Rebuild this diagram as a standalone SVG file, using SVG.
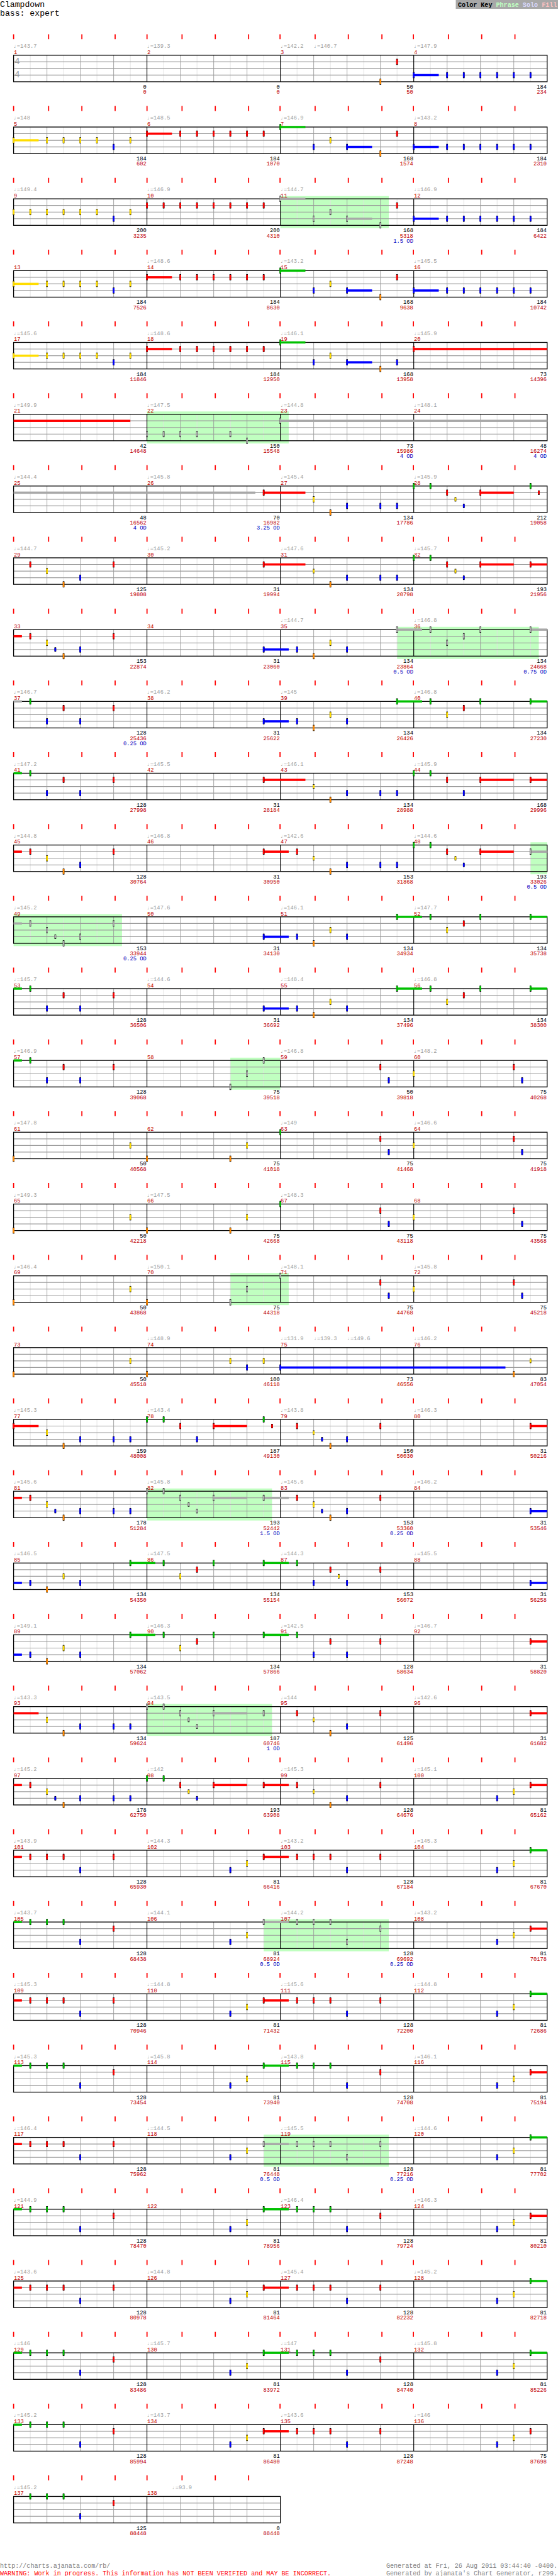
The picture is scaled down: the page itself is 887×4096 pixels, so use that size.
<svg xmlns="http://www.w3.org/2000/svg" width="887" height="4096" viewBox="0 0 887 4096">
<style>
text{font-family:"Liberation Mono","DejaVu Sans Mono",monospace}
.t{font-size:10px;fill:#a0a0a0}
.m{font-size:10px;fill:#c00000}
.b{font-size:10px;fill:#000;text-anchor:end}
.r{font-size:10px;fill:#c00000;text-anchor:end}
.o{font-size:10px;fill:#0000c0;text-anchor:end}
.ph{fill:#c0ffc0}
.sg{fill:#00c000}.sr{fill:#ff0000}.sy{fill:#ffdd00}.sb{fill:#0000ff}.sx{fill:#a8a8a8}
</style>
<defs>
<g id="st" fill="none">
<path stroke="#e0e0e0" d="M54.8 0V48M115.1 0V48M175.5 0V48M235.9 0V48M296.2 0V48M356.6 0V48M416.9 0V48M477.3 0V48M537.7 0V48M598 0V48M658.4 0V48M718.7 0V48M779.1 0V48M839.5 0V48M899.8 0V48M960.2 0V48"/>
<path stroke="#999" d="M85 0V48M145.3 0V48M205.7 0V48M326.4 0V48M386.8 0V48M447.1 0V48M567.8 0V48M628.2 0V48M688.6 0V48M809.3 0V48M869.6 0V48M930 0V48"/>
<path stroke="#999" stroke-width="1.3" d="M24.6 12H990.4M24.6 24H990.4M24.6 36H990.4"/>
<path stroke="#000" stroke-width="1.3" d="M266 0V48M507.5 0V48M748.9 0V48"/>
<rect x="24.6" y="0" width="965.8" height="48" stroke="#000" stroke-width="1.5"/>
</g>
<g id="st2" fill="none">
<path stroke="#e0e0e0" d="M54.8 0V48M115.1 0V48M175.5 0V48M235.9 0V48M296.2 0V48M356.6 0V48M416.9 0V48M477.3 0V48"/>
<path stroke="#999" d="M85 0V48M145.3 0V48M205.7 0V48M326.4 0V48M386.8 0V48M447.1 0V48"/>
<path stroke="#999" stroke-width="1.3" d="M24.6 12H507.5M24.6 24H507.5M24.6 36H507.5"/>
<path stroke="#000" stroke-width="1.3" d="M266 0V48"/>
<rect x="24.6" y="0" width="482.9" height="48" stroke="#000" stroke-width="1.5"/>
</g>
<path id="tk" stroke="#f00" stroke-width="2" d="M24.6 -38v9M88 -38v9M148.2 -38v9M208.4 -38v9M266.1 -38v9M329.5 -38v9M389.7 -38v9M450 -38v9M506.9 -38v9M570.4 -38v9M630.5 -38v9M691.3 -38v9M748.3 -38v9M811.7 -38v9M871.9 -38v9M932.1 -38v9"/>
<path id="tk2" stroke="#f00" stroke-width="2" d="M24.6 -38v9M88 -38v9M148.2 -38v9M208.4 -38v9M266.1 -38v9M329.5 -38v9M389.7 -38v9M450 -38v9"/>
<g id="nG"><rect x="-1.5" y="-5.5" width="3" height="11"/><rect x="-1.5" y="-4.5" width="3" height="9" fill="#00c000"/></g>
<g id="nR"><rect x="-1.5" y="6.5" width="3" height="11"/><rect x="-1.5" y="7.5" width="3" height="9" fill="#ff0000"/></g>
<g id="nY"><rect x="-1.5" y="18.5" width="3" height="11"/><rect x="-1.5" y="19.5" width="3" height="9" fill="#ffdd00"/></g>
<g id="nB"><rect x="-1.5" y="30.5" width="3" height="11"/><rect x="-1.5" y="31.5" width="3" height="9" fill="#0000ff"/></g>
<g id="nO"><rect x="-1.5" y="42.5" width="3" height="11"/><rect x="-1.5" y="43.5" width="3" height="9" fill="#ff8800"/></g>
<g id="nRs"><rect x="-1.5" y="8" width="3" height="8"/><rect x="-1.5" y="9" width="3" height="6" fill="#ff0000"/></g>
<g id="nYs"><rect x="-1.5" y="20" width="3" height="8"/><rect x="-1.5" y="21" width="3" height="6" fill="#ffdd00"/></g>
<g id="nBs"><rect x="-1.5" y="32" width="3" height="8"/><rect x="-1.5" y="33" width="3" height="6" fill="#0000ff"/></g>
<g id="xG"><rect x="-1.5" y="-5.5" width="3" height="11"/><rect x="-1.5" y="-4.5" width="3" height="9" fill="#a8a8a8"/></g>
<g id="xR"><rect x="-1.5" y="6.5" width="3" height="11"/><rect x="-1.5" y="7.5" width="3" height="9" fill="#a8a8a8"/></g>
<g id="xY"><rect x="-1.5" y="18.5" width="3" height="11"/><rect x="-1.5" y="19.5" width="3" height="9" fill="#a8a8a8"/></g>
<g id="xB"><rect x="-1.5" y="30.5" width="3" height="11"/><rect x="-1.5" y="31.5" width="3" height="9" fill="#a8a8a8"/></g>
<g id="xO"><rect x="-1.5" y="42.5" width="3" height="11"/><rect x="-1.5" y="43.5" width="3" height="9" fill="#a8a8a8"/></g>
<g id="xYs"><rect x="-1.5" y="20" width="3" height="8"/><rect x="-1.5" y="21" width="3" height="6" fill="#a8a8a8"/></g>
<g id="xBs"><rect x="-1.5" y="32" width="3" height="8"/><rect x="-1.5" y="33" width="3" height="6" fill="#a8a8a8"/></g>
</defs>
<rect width="887" height="4096" fill="#fff"/>
<g transform="scale(0.8782)">
<g id="header">
<text x="0" y="13" font-size="15">Clampdown</text>
<text x="0" y="28" font-size="15">bass: expert</text>
<rect x="825" y="0" width="185" height="16" fill="#a8a8a8"/>
<text x="829" y="12" font-size="11.5" font-weight="bold"><tspan fill="#000">Color Key</tspan> <tspan fill="#c0ffc0">Phrase</tspan> <tspan fill="#d8d8ff">Solo</tspan> <tspan fill="#ffc0c0">Fill</tspan></text>
</g>

<g id="row1" transform="translate(0,100)">
<use href="#st"/><use href="#tk"/>
<text x="26" y="16" font-size="17" fill="#a0a0a0">4</text><text x="26" y="40" font-size="17" fill="#a0a0a0">4</text>
<text class="t" x="24.6" y="-13.5">♩=143.7</text><text class="t" x="266" y="-13.5">♩=139.3</text><text class="t" x="507.5" y="-13.5">♩=142.2</text><text class="t" x="567.8" y="-13.5">♩=140.7</text><text class="t" x="748.9" y="-13.5">♩=147.9</text>
<text class="m" x="25" y="-2.5">1</text><text class="m" x="266.5" y="-2.5">2</text><text class="m" x="508" y="-2.5">3</text><text class="m" x="749.4" y="-2.5">4</text>
<use href="#nO" x="688.6"/><use href="#nR" x="718.7"/>
<rect class="sb" x="748.9" y="34" width="45.3" height="4"/><use href="#nB" x="748.9"/>
<use href="#nB" x="809.3"/><use href="#nB" x="839.5"/><use href="#nB" x="869.6"/><use href="#nB" x="899.8"/><use href="#nB" x="930"/><use href="#nB" x="960.2"/>
<text class="b" x="265" y="60.5">0</text><text class="b" x="506.5" y="60.5">0</text><text class="b" x="748" y="60.5">50</text><text class="b" x="989.5" y="60.5">184</text>
<text class="r" x="265" y="70">0</text><text class="r" x="506.5" y="70">0</text><text class="r" x="748" y="70">50</text><text class="r" x="989.5" y="70">234</text>
</g>

<g id="row2" transform="translate(0,230)">
<use href="#st"/><use href="#tk"/>
<text class="t" x="24.6" y="-13.5">♩=148</text><text class="t" x="266" y="-13.5">♩=148.5</text><text class="t" x="507.5" y="-13.5">♩=146.9</text><text class="t" x="748.9" y="-13.5">♩=143.2</text>
<text class="m" x="25" y="-2.5">5</text><text class="m" x="266.5" y="-2.5">6</text><text class="m" x="508" y="-2.5">7</text><text class="m" x="749.4" y="-2.5">8</text>
<rect class="sy" x="24.6" y="22" width="45.3" height="4"/><use href="#nY" x="24.6"/><use href="#nY" x="85"/><use href="#nY" x="115.1"/><use href="#nY" x="145.3"/><use href="#nY" x="175.5"/><use href="#nB" x="205.7"/><use href="#nY" x="235.9"/>
<rect class="sr" x="266" y="10" width="45.3" height="4"/><use href="#nR" x="266"/><use href="#nR" x="326.4"/><use href="#nR" x="356.6"/><use href="#nR" x="386.8"/><use href="#nR" x="416.9"/><use href="#nR" x="447.1"/><use href="#nR" x="477.3"/>
<rect class="sg" x="507.5" y="-2" width="45.3" height="4"/><use href="#nG" x="507.5"/><use href="#nB" x="567.8"/><use href="#nY" x="598"/>
<rect class="sb" x="628.2" y="34" width="45.3" height="4"/><use href="#nB" x="628.2"/><use href="#nO" x="688.6"/><use href="#nR" x="718.7"/>
<rect class="sb" x="748.9" y="34" width="45.3" height="4"/><use href="#nB" x="748.9"/><use href="#nB" x="809.3"/><use href="#nB" x="839.5"/><use href="#nB" x="869.6"/><use href="#nB" x="899.8"/><use href="#nB" x="930"/><use href="#nB" x="960.2"/>
<text class="b" x="265" y="60.5">184</text><text class="b" x="506.5" y="60.5">184</text><text class="b" x="748" y="60.5">168</text><text class="b" x="989.5" y="60.5">184</text>
<text class="r" x="265" y="70">602</text><text class="r" x="506.5" y="70">1070</text><text class="r" x="748" y="70">1574</text><text class="r" x="989.5" y="70">2310</text>
</g>

<g id="row3" transform="translate(0,360)">
<rect class="ph" x="507.5" y="-5" width="196.2" height="58"/>
<use href="#st"/><use href="#tk"/>
<text class="t" x="24.6" y="-13.5">♩=149.4</text><text class="t" x="266" y="-13.5">♩=146.9</text><text class="t" x="507.5" y="-13.5">♩=144.7</text><text class="t" x="748.9" y="-13.5">♩=146.9</text>
<text class="m" x="25" y="-2.5">9</text><text class="m" x="266.5" y="-2.5">10</text><text class="m" x="508" y="-2.5">11</text><text class="m" x="749.4" y="-2.5">12</text>
<use href="#nY" x="24.6"/><use href="#nY" x="54.8"/><use href="#nY" x="85"/><use href="#nY" x="115.1"/><use href="#nY" x="145.3"/><use href="#nY" x="175.5"/><use href="#nB" x="205.7"/><use href="#nY" x="235.9"/>
<use href="#nR" x="266"/><use href="#nR" x="296.2"/><use href="#nR" x="326.4"/><use href="#nR" x="356.6"/><use href="#nR" x="386.8"/><use href="#nR" x="416.9"/><use href="#nR" x="447.1"/><use href="#nR" x="477.3"/>
<rect class="sx" x="507.5" y="-2" width="45.3" height="4"/><use href="#xG" x="507.5"/><use href="#xB" x="567.8"/><use href="#xY" x="598"/>
<rect class="sx" x="628.2" y="34" width="45.3" height="4"/><use href="#xB" x="628.2"/><use href="#xO" x="688.6"/><use href="#nR" x="718.7"/>
<rect class="sb" x="748.9" y="34" width="45.3" height="4"/><use href="#nB" x="748.9"/><use href="#nB" x="809.3"/><use href="#nB" x="839.5"/><use href="#nB" x="869.6"/><use href="#nB" x="899.8"/><use href="#nB" x="930"/><use href="#nB" x="960.2"/>
<text class="b" x="265" y="60.5">200</text><text class="b" x="506.5" y="60.5">200</text><text class="b" x="748" y="60.5">168</text><text class="b" x="989.5" y="60.5">184</text>
<text class="r" x="265" y="70">3235</text><text class="r" x="506.5" y="70">4310</text><text class="r" x="748" y="70">5318</text><text class="r" x="989.5" y="70">6422</text>
<text class="o" x="748" y="79">1.5 OD</text>
</g>

<g id="row4" transform="translate(0,490)">
<use href="#st"/><use href="#tk"/>
<text class="t" x="266" y="-13.5">♩=148.6</text><text class="t" x="507.5" y="-13.5">♩=143.2</text><text class="t" x="748.9" y="-13.5">♩=145.5</text>
<text class="m" x="25" y="-2.5">13</text><text class="m" x="266.5" y="-2.5">14</text><text class="m" x="508" y="-2.5">15</text><text class="m" x="749.4" y="-2.5">16</text>
<rect class="sy" x="24.6" y="22" width="45.3" height="4"/><use href="#nY" x="24.6"/><use href="#nY" x="85"/><use href="#nY" x="115.1"/><use href="#nY" x="145.3"/><use href="#nY" x="175.5"/><use href="#nB" x="205.7"/><use href="#nY" x="235.9"/>
<rect class="sr" x="266" y="10" width="45.3" height="4"/><use href="#nR" x="266"/><use href="#nR" x="326.4"/><use href="#nR" x="356.6"/><use href="#nR" x="386.8"/><use href="#nR" x="416.9"/><use href="#nR" x="447.1"/><use href="#nR" x="477.3"/>
<rect class="sg" x="507.5" y="-2" width="45.3" height="4"/><use href="#nG" x="507.5"/><use href="#nB" x="567.8"/><use href="#nY" x="598"/>
<rect class="sb" x="628.2" y="34" width="45.3" height="4"/><use href="#nB" x="628.2"/><use href="#nO" x="688.6"/><use href="#nR" x="718.7"/>
<rect class="sb" x="748.9" y="34" width="45.3" height="4"/><use href="#nB" x="748.9"/><use href="#nB" x="809.3"/><use href="#nB" x="839.5"/><use href="#nB" x="869.6"/><use href="#nB" x="899.8"/><use href="#nB" x="930"/><use href="#nB" x="960.2"/>
<text class="b" x="265" y="60.5">184</text><text class="b" x="506.5" y="60.5">184</text><text class="b" x="748" y="60.5">168</text><text class="b" x="989.5" y="60.5">184</text>
<text class="r" x="265" y="70">7526</text><text class="r" x="506.5" y="70">8630</text><text class="r" x="748" y="70">9638</text><text class="r" x="989.5" y="70">10742</text>
</g>

<g id="row5" transform="translate(0,620)">
<use href="#st"/><use href="#tk"/>
<text class="t" x="24.6" y="-13.5">♩=145.6</text><text class="t" x="266" y="-13.5">♩=148.6</text><text class="t" x="507.5" y="-13.5">♩=146.1</text><text class="t" x="748.9" y="-13.5">♩=145.9</text>
<text class="m" x="25" y="-2.5">17</text><text class="m" x="266.5" y="-2.5">18</text><text class="m" x="508" y="-2.5">19</text><text class="m" x="749.4" y="-2.5">20</text>
<rect class="sy" x="24.6" y="22" width="45.3" height="4"/><use href="#nY" x="24.6"/><use href="#nY" x="85"/><use href="#nY" x="115.1"/><use href="#nY" x="145.3"/><use href="#nY" x="175.5"/><use href="#nB" x="205.7"/><use href="#nY" x="235.9"/>
<rect class="sr" x="266" y="10" width="45.3" height="4"/><use href="#nR" x="266"/><use href="#nR" x="326.4"/><use href="#nR" x="356.6"/><use href="#nR" x="386.8"/><use href="#nR" x="416.9"/><use href="#nR" x="447.1"/><use href="#nR" x="477.3"/>
<rect class="sg" x="507.5" y="-2" width="45.3" height="4"/><use href="#nG" x="507.5"/><use href="#nB" x="567.8"/><use href="#nY" x="598"/>
<rect class="sb" x="628.2" y="34" width="45.3" height="4"/><use href="#nB" x="628.2"/><use href="#nO" x="688.6"/><use href="#nB" x="718.7"/>
<rect class="sr" x="748.9" y="10" width="241.5" height="4"/><use href="#nR" x="748.9"/>
<text class="b" x="265" y="60.5">184</text><text class="b" x="506.5" y="60.5">184</text><text class="b" x="748" y="60.5">168</text><text class="b" x="989.5" y="60.5">73</text>
<text class="r" x="265" y="70">11846</text><text class="r" x="506.5" y="70">12950</text><text class="r" x="748" y="70">13958</text><text class="r" x="989.5" y="70">14396</text>
</g>

<g id="row6" transform="translate(0,750)">
<rect class="ph" x="266" y="-5" width="256.6" height="58"/>
<use href="#st"/><use href="#tk"/>
<text class="t" x="24.6" y="-13.5">♩=149.9</text><text class="t" x="266" y="-13.5">♩=147.5</text><text class="t" x="507.5" y="-13.5">♩=144.8</text><text class="t" x="748.9" y="-13.5">♩=148.1</text>
<text class="m" x="25" y="-2.5">21</text><text class="m" x="266.5" y="-2.5">22</text><text class="m" x="508" y="-2.5">23</text><text class="m" x="749.4" y="-2.5">24</text>
<rect class="sr" x="24.6" y="10" width="211.3" height="4"/>
<use href="#xB" x="266"/><use href="#xB" x="296.2"/><use href="#xB" x="326.4"/><use href="#xB" x="356.6"/><use href="#xB" x="416.9"/><use href="#xO" x="447.1"/>
<rect class="sx" x="507.5" y="10" width="482.9" height="4"/><use href="#xR" x="507.5"/>
<text class="b" x="265" y="60.5">42</text><text class="b" x="506.5" y="60.5">150</text><text class="b" x="748" y="60.5">73</text><text class="b" x="989.5" y="60.5">48</text>
<text class="r" x="265" y="70">14648</text><text class="r" x="506.5" y="70">15548</text><text class="r" x="748" y="70">15986</text><text class="r" x="989.5" y="70">16274</text>
<text class="o" x="748" y="79">4 OD</text><text class="o" x="989.5" y="79">4 OD</text>
</g>

<g id="row7" transform="translate(0,880)">
<use href="#st"/><use href="#tk"/>
<text class="t" x="24.6" y="-13.5">♩=144.4</text><text class="t" x="266" y="-13.5">♩=145.8</text><text class="t" x="507.5" y="-13.5">♩=145.4</text><text class="t" x="748.9" y="-13.5">♩=145.9</text>
<text class="m" x="25" y="-2.5">25</text><text class="m" x="266.5" y="-2.5">26</text><text class="m" x="508" y="-2.5">27</text><text class="m" x="749.4" y="-2.5">28</text>
<rect class="sx" x="24.6" y="10" width="437.6" height="4"/>
<rect class="sr" x="477.3" y="10" width="75.5" height="4"/><use href="#nR" x="477.3"/>
<use href="#nY" x="567.8"/><use href="#nO" x="598"/><use href="#nB" x="628.2"/><use href="#nB" x="688.6"/><use href="#nB" x="718.7"/>
<use href="#nG" x="748.9"/><use href="#nG" x="779.1"/><use href="#nR" x="809.3"/><use href="#nYs" x="824.4"/><use href="#nBs" x="839.5"/>
<rect class="sr" x="869.6" y="10" width="60.4" height="4"/><use href="#nR" x="869.6"/><use href="#nG" x="960.2"/><use href="#nRs" x="975.3"/>
<text class="b" x="265" y="60.5">48</text><text class="b" x="506.5" y="60.5">70</text><text class="b" x="748" y="60.5">134</text><text class="b" x="989.5" y="60.5">212</text>
<text class="r" x="265" y="70">16562</text><text class="r" x="506.5" y="70">16982</text><text class="r" x="748" y="70">17786</text><text class="r" x="989.5" y="70">19058</text>
<text class="o" x="265" y="79">4 OD</text><text class="o" x="506.5" y="79">3.25 OD</text>
</g>

<g id="row8" transform="translate(0,1010)">
<use href="#st"/><use href="#tk"/>
<text class="t" x="24.6" y="-13.5">♩=144.7</text><text class="t" x="266" y="-13.5">♩=145.2</text><text class="t" x="507.5" y="-13.5">♩=147.6</text><text class="t" x="748.9" y="-13.5">♩=145.7</text>
<text class="m" x="25" y="-2.5">29</text><text class="m" x="266.5" y="-2.5">30</text><text class="m" x="508" y="-2.5">31</text><text class="m" x="749.4" y="-2.5">32</text>
<use href="#nR" x="54.8"/><use href="#nY" x="85"/><use href="#nO" x="115.1"/><use href="#nB" x="145.3"/><use href="#nR" x="205.7"/>
<rect class="sr" x="477.3" y="10" width="75.5" height="4"/><use href="#nR" x="477.3"/>
<use href="#nYs" x="567.8"/><use href="#nO" x="598"/><use href="#nB" x="628.2"/><use href="#nB" x="688.6"/><use href="#nB" x="718.7"/>
<use href="#nG" x="748.9"/><use href="#nG" x="779.1"/><use href="#nR" x="809.3"/><use href="#nYs" x="824.4"/><use href="#nBs" x="839.5"/>
<rect class="sr" x="869.6" y="10" width="60.4" height="4"/><use href="#nR" x="869.6"/>
<rect class="sr" x="960.2" y="10" width="30.2" height="4"/><use href="#nR" x="960.2"/>
<text class="b" x="265" y="60.5">125</text><text class="b" x="506.5" y="60.5">31</text><text class="b" x="748" y="60.5">134</text><text class="b" x="989.5" y="60.5">193</text>
<text class="r" x="265" y="70">19808</text><text class="r" x="506.5" y="70">19994</text><text class="r" x="748" y="70">20798</text><text class="r" x="989.5" y="70">21956</text>
</g>

<g id="row9" transform="translate(0,1140)">
<rect class="ph" x="718.7" y="-5" width="256.6" height="58"/>
<use href="#st"/><use href="#tk"/>
<text class="t" x="507.5" y="-13.5">♩=144.7</text><text class="t" x="748.9" y="-13.5">♩=146.8</text>
<text class="m" x="25" y="-2.5">33</text><text class="m" x="266.5" y="-2.5">34</text><text class="m" x="508" y="-2.5">35</text><text class="m" x="749.4" y="-2.5">36</text>
<rect class="sr" x="24.6" y="10" width="15.1" height="4"/>
<use href="#nR" x="54.8"/><use href="#nY" x="85"/><use href="#nBs" x="100.1"/><use href="#nO" x="115.1"/><use href="#nB" x="145.3"/><use href="#nR" x="205.7"/>
<rect class="sb" x="477.3" y="34" width="45.3" height="4"/><use href="#nB" x="477.3"/><use href="#nB" x="537.7"/><use href="#nO" x="567.8"/><use href="#nY" x="598"/><use href="#nB" x="628.2"/>
<rect class="sx" x="718.7" y="-2" width="45.3" height="4"/><use href="#xG" x="718.7"/><use href="#xG" x="779.1"/><use href="#xY" x="809.3"/><use href="#xR" x="839.5"/><use href="#xG" x="869.6"/>
<rect class="sx" x="960.2" y="-2" width="30.2" height="4"/><use href="#xG" x="960.2"/>
<text class="b" x="265" y="60.5">153</text><text class="b" x="506.5" y="60.5">31</text><text class="b" x="748" y="60.5">134</text><text class="b" x="989.5" y="60.5">134</text>
<text class="r" x="265" y="70">22874</text><text class="r" x="506.5" y="70">23060</text><text class="r" x="748" y="70">23864</text><text class="r" x="989.5" y="70">24668</text>
<text class="o" x="748" y="79">0.5 OD</text><text class="o" x="989.5" y="79">0.75 OD</text>
</g>

<g id="row10" transform="translate(0,1270)">
<use href="#st"/><use href="#tk"/>
<text class="t" x="24.6" y="-13.5">♩=146.7</text><text class="t" x="266" y="-13.5">♩=146.2</text><text class="t" x="507.5" y="-13.5">♩=145</text><text class="t" x="748.9" y="-13.5">♩=146.8</text>
<text class="m" x="25" y="-2.5">37</text><text class="m" x="266.5" y="-2.5">38</text><text class="m" x="508" y="-2.5">39</text><text class="m" x="749.4" y="-2.5">40</text>
<rect class="sx" x="24.6" y="-2" width="15.1" height="4"/>
<use href="#nG" x="54.8"/><use href="#nB" x="85"/><use href="#nR" x="115.1"/><use href="#nB" x="145.3"/><use href="#nR" x="205.7"/>
<rect class="sb" x="477.3" y="34" width="45.3" height="4"/><use href="#nB" x="477.3"/><use href="#nB" x="537.7"/><use href="#nO" x="567.8"/><use href="#nY" x="598"/><use href="#nB" x="628.2"/>
<rect class="sg" x="718.7" y="-2" width="45.3" height="4"/><use href="#nG" x="718.7"/><use href="#nG" x="779.1"/><use href="#nY" x="809.3"/><use href="#nR" x="839.5"/><use href="#nG" x="869.6"/>
<rect class="sg" x="960.2" y="-2" width="30.2" height="4"/><use href="#nG" x="960.2"/>
<text class="b" x="265" y="60.5">128</text><text class="b" x="506.5" y="60.5">31</text><text class="b" x="748" y="60.5">134</text><text class="b" x="989.5" y="60.5">134</text>
<text class="r" x="265" y="70">25436</text><text class="r" x="506.5" y="70">25622</text><text class="r" x="748" y="70">26426</text><text class="r" x="989.5" y="70">27230</text>
<text class="o" x="265" y="79">0.25 OD</text>
</g>

<g id="row11" transform="translate(0,1400)">
<use href="#st"/><use href="#tk"/>
<text class="t" x="24.6" y="-13.5">♩=147.2</text><text class="t" x="266" y="-13.5">♩=145.5</text><text class="t" x="507.5" y="-13.5">♩=146.1</text><text class="t" x="748.9" y="-13.5">♩=145.9</text>
<text class="m" x="25" y="-2.5">41</text><text class="m" x="266.5" y="-2.5">42</text><text class="m" x="508" y="-2.5">43</text><text class="m" x="749.4" y="-2.5">44</text>
<rect class="sg" x="24.6" y="-2" width="15.1" height="4"/>
<use href="#nG" x="54.8"/><use href="#nB" x="85"/><use href="#nR" x="115.1"/><use href="#nB" x="145.3"/><use href="#nR" x="205.7"/>
<rect class="sr" x="477.3" y="10" width="75.5" height="4"/><use href="#nR" x="477.3"/>
<use href="#nYs" x="567.8"/><use href="#nO" x="598"/><use href="#nB" x="628.2"/><use href="#nB" x="688.6"/><use href="#nB" x="718.7"/>
<use href="#nG" x="748.9"/><use href="#nG" x="779.1"/><use href="#nR" x="809.3"/><use href="#nB" x="839.5"/>
<rect class="sr" x="869.6" y="10" width="60.4" height="4"/><use href="#nR" x="869.6"/>
<rect class="sr" x="960.2" y="10" width="30.2" height="4"/><use href="#nR" x="960.2"/>
<text class="b" x="265" y="60.5">128</text><text class="b" x="506.5" y="60.5">31</text><text class="b" x="748" y="60.5">134</text><text class="b" x="989.5" y="60.5">168</text>
<text class="r" x="265" y="70">27998</text><text class="r" x="506.5" y="70">28184</text><text class="r" x="748" y="70">28988</text><text class="r" x="989.5" y="70">29996</text>
</g>

<g id="row12" transform="translate(0,1530)">
<rect class="ph" x="960.2" y="-5" width="30.2" height="58"/>
<use href="#st"/><use href="#tk"/>
<text class="t" x="24.6" y="-13.5">♩=144.8</text><text class="t" x="266" y="-13.5">♩=146.8</text><text class="t" x="507.5" y="-13.5">♩=142.6</text><text class="t" x="748.9" y="-13.5">♩=144.6</text>
<text class="m" x="25" y="-2.5">45</text><text class="m" x="266.5" y="-2.5">46</text><text class="m" x="508" y="-2.5">47</text><text class="m" x="749.4" y="-2.5">48</text>
<rect class="sr" x="24.6" y="10" width="15.1" height="4"/>
<use href="#nR" x="54.8"/><use href="#nY" x="85"/><use href="#nO" x="115.1"/><use href="#nB" x="145.3"/><use href="#nR" x="205.7"/>
<rect class="sr" x="477.3" y="10" width="45.3" height="4"/><use href="#nR" x="477.3"/><use href="#nR" x="537.7"/>
<use href="#nYs" x="567.8"/><use href="#nO" x="598"/><use href="#nB" x="628.2"/><use href="#nB" x="688.6"/><use href="#nB" x="718.7"/>
<use href="#nG" x="748.9"/><use href="#nG" x="779.1"/><use href="#nR" x="809.3"/><use href="#nYs" x="824.4"/><use href="#nBs" x="839.5"/>
<rect class="sr" x="869.6" y="10" width="60.4" height="4"/><use href="#nR" x="869.6"/>
<rect class="sx" x="960.2" y="10" width="30.2" height="4"/><use href="#xR" x="960.2"/>
<text class="b" x="265" y="60.5">128</text><text class="b" x="506.5" y="60.5">31</text><text class="b" x="748" y="60.5">153</text><text class="b" x="989.5" y="60.5">193</text>
<text class="r" x="265" y="70">30764</text><text class="r" x="506.5" y="70">30950</text><text class="r" x="748" y="70">31868</text><text class="r" x="989.5" y="70">33026</text>
<text class="o" x="989.5" y="79">0.5 OD</text>
</g>

<g id="row13" transform="translate(0,1660)">
<rect class="ph" x="24.6" y="-5" width="196.2" height="58"/>
<use href="#st"/><use href="#tk"/>
<text class="t" x="24.6" y="-13.5">♩=145.2</text><text class="t" x="266" y="-13.5">♩=147.6</text><text class="t" x="507.5" y="-13.5">♩=146.1</text><text class="t" x="748.9" y="-13.5">♩=147.7</text>
<text class="m" x="25" y="-2.5">49</text><text class="m" x="266.5" y="-2.5">50</text><text class="m" x="508" y="-2.5">51</text><text class="m" x="749.4" y="-2.5">52</text>
<rect class="sx" x="24.6" y="10" width="15.1" height="4"/>
<use href="#xR" x="54.8"/><use href="#xY" x="85"/><use href="#xBs" x="100.1"/><use href="#xO" x="115.1"/><use href="#xB" x="145.3"/><use href="#xR" x="205.7"/>
<rect class="sb" x="477.3" y="34" width="45.3" height="4"/><use href="#nB" x="477.3"/><use href="#nB" x="537.7"/><use href="#nO" x="567.8"/><use href="#nY" x="598"/><use href="#nB" x="628.2"/>
<rect class="sg" x="718.7" y="-2" width="45.3" height="4"/><use href="#nG" x="718.7"/><use href="#nG" x="779.1"/><use href="#nY" x="809.3"/><use href="#nR" x="839.5"/><use href="#nG" x="869.6"/>
<rect class="sg" x="960.2" y="-2" width="30.2" height="4"/><use href="#nG" x="960.2"/>
<text class="b" x="265" y="60.5">153</text><text class="b" x="506.5" y="60.5">31</text><text class="b" x="748" y="60.5">134</text><text class="b" x="989.5" y="60.5">134</text>
<text class="r" x="265" y="70">33944</text><text class="r" x="506.5" y="70">34130</text><text class="r" x="748" y="70">34934</text><text class="r" x="989.5" y="70">35738</text>
<text class="o" x="265" y="79">0.25 OD</text>
</g>

<g id="row14" transform="translate(0,1790)">
<use href="#st"/><use href="#tk"/>
<text class="t" x="24.6" y="-13.5">♩=145.7</text><text class="t" x="266" y="-13.5">♩=144.6</text><text class="t" x="507.5" y="-13.5">♩=148.4</text><text class="t" x="748.9" y="-13.5">♩=146.8</text>
<text class="m" x="25" y="-2.5">53</text><text class="m" x="266.5" y="-2.5">54</text><text class="m" x="508" y="-2.5">55</text><text class="m" x="749.4" y="-2.5">56</text>
<rect class="sg" x="24.6" y="-2" width="15.1" height="4"/>
<use href="#nG" x="54.8"/><use href="#nB" x="85"/><use href="#nR" x="115.1"/><use href="#nB" x="145.3"/><use href="#nR" x="205.7"/>
<rect class="sb" x="477.3" y="34" width="45.3" height="4"/><use href="#nB" x="477.3"/><use href="#nB" x="537.7"/><use href="#nO" x="567.8"/><use href="#nY" x="598"/><use href="#nB" x="628.2"/>
<rect class="sg" x="718.7" y="-2" width="45.3" height="4"/><use href="#nG" x="718.7"/><use href="#nG" x="779.1"/><use href="#nY" x="809.3"/><use href="#nR" x="839.5"/><use href="#nG" x="869.6"/>
<rect class="sg" x="960.2" y="-2" width="30.2" height="4"/><use href="#nG" x="960.2"/>
<text class="b" x="265" y="60.5">128</text><text class="b" x="506.5" y="60.5">31</text><text class="b" x="748" y="60.5">134</text><text class="b" x="989.5" y="60.5">134</text>
<text class="r" x="265" y="70">36506</text><text class="r" x="506.5" y="70">36692</text><text class="r" x="748" y="70">37496</text><text class="r" x="989.5" y="70">38300</text>
</g>

<g id="row15" transform="translate(0,1920)">
<rect class="ph" x="416.9" y="-5" width="90.6" height="58"/>
<use href="#st"/><use href="#tk"/>
<text class="t" x="24.6" y="-13.5">♩=146.9</text><text class="t" x="507.5" y="-13.5">♩=146.8</text><text class="t" x="748.9" y="-13.5">♩=148.2</text>
<text class="m" x="25" y="-2.5">57</text><text class="m" x="266.5" y="-2.5">58</text><text class="m" x="508" y="-2.5">59</text><text class="m" x="749.4" y="-2.5">60</text>
<rect class="sg" x="24.6" y="-2" width="15.1" height="4"/>
<use href="#nG" x="54.8"/><use href="#nB" x="85"/><use href="#nR" x="115.1"/><use href="#nB" x="145.3"/><use href="#nR" x="205.7"/>
<use href="#xO" x="416.9"/><use href="#xY" x="447.1"/><use href="#xG" x="477.3"/>
<use href="#nR" x="688.6"/><use href="#nB" x="703.7"/><use href="#nY" x="748.9"/><use href="#nR" x="930"/><use href="#nB" x="945.1"/>
<text class="b" x="265" y="60.5">128</text><text class="b" x="506.5" y="60.5">75</text><text class="b" x="748" y="60.5">50</text><text class="b" x="989.5" y="60.5">75</text>
<text class="r" x="265" y="70">39068</text><text class="r" x="506.5" y="70">39518</text><text class="r" x="748" y="70">39818</text><text class="r" x="989.5" y="70">40268</text>
</g>

<g id="row16" transform="translate(0,2050)">
<use href="#st"/><use href="#tk"/>
<text class="t" x="24.6" y="-13.5">♩=147.8</text><text class="t" x="507.5" y="-13.5">♩=149</text><text class="t" x="748.9" y="-13.5">♩=146.6</text>
<text class="m" x="25" y="-2.5">61</text><text class="m" x="266.5" y="-2.5">62</text><text class="m" x="508" y="-2.5">63</text><text class="m" x="749.4" y="-2.5">64</text>
<use href="#nO" x="24.6"/><use href="#nY" x="235.9"/><use href="#nO" x="266"/><use href="#nO" x="416.9"/><use href="#nY" x="447.1"/><use href="#nG" x="507.5"/>
<use href="#nR" x="688.6"/><use href="#nB" x="703.7"/><use href="#nY" x="748.9"/><use href="#nR" x="930"/><use href="#nB" x="945.1"/>
<text class="b" x="265" y="60.5">50</text><text class="b" x="506.5" y="60.5">75</text><text class="b" x="748" y="60.5">75</text><text class="b" x="989.5" y="60.5">75</text>
<text class="r" x="265" y="70">40568</text><text class="r" x="506.5" y="70">41018</text><text class="r" x="748" y="70">41468</text><text class="r" x="989.5" y="70">41918</text>
</g>

<g id="row17" transform="translate(0,2180)">
<use href="#st"/><use href="#tk"/>
<text class="t" x="24.6" y="-13.5">♩=149.3</text><text class="t" x="266" y="-13.5">♩=147.5</text><text class="t" x="507.5" y="-13.5">♩=148.3</text>
<text class="m" x="25" y="-2.5">65</text><text class="m" x="266.5" y="-2.5">66</text><text class="m" x="508" y="-2.5">67</text><text class="m" x="749.4" y="-2.5">68</text>
<use href="#nO" x="24.6"/><use href="#nY" x="235.9"/><use href="#nO" x="266"/><use href="#nO" x="416.9"/><use href="#nY" x="447.1"/><use href="#nG" x="507.5"/>
<use href="#nR" x="688.6"/><use href="#nB" x="703.7"/><use href="#nY" x="748.9"/><use href="#nR" x="930"/><use href="#nB" x="945.1"/>
<text class="b" x="265" y="60.5">50</text><text class="b" x="506.5" y="60.5">75</text><text class="b" x="748" y="60.5">75</text><text class="b" x="989.5" y="60.5">75</text>
<text class="r" x="265" y="70">42218</text><text class="r" x="506.5" y="70">42668</text><text class="r" x="748" y="70">43118</text><text class="r" x="989.5" y="70">43568</text>
</g>

<g id="row18" transform="translate(0,2310)">
<rect class="ph" x="416.9" y="-5" width="105.7" height="58"/>
<use href="#st"/><use href="#tk"/>
<text class="t" x="24.6" y="-13.5">♩=146.4</text><text class="t" x="266" y="-13.5">♩=150.1</text><text class="t" x="507.5" y="-13.5">♩=148.1</text><text class="t" x="748.9" y="-13.5">♩=145.8</text>
<text class="m" x="25" y="-2.5">69</text><text class="m" x="266.5" y="-2.5">70</text><text class="m" x="508" y="-2.5">71</text><text class="m" x="749.4" y="-2.5">72</text>
<use href="#nO" x="24.6"/><use href="#nY" x="235.9"/><use href="#nO" x="266"/><use href="#xO" x="416.9"/><use href="#xY" x="447.1"/><use href="#xG" x="507.5"/>
<use href="#nR" x="688.6"/><use href="#nB" x="703.7"/><use href="#nY" x="748.9"/><use href="#nR" x="930"/><use href="#nB" x="945.1"/>
<text class="b" x="265" y="60.5">50</text><text class="b" x="506.5" y="60.5">75</text><text class="b" x="748" y="60.5">75</text><text class="b" x="989.5" y="60.5">75</text>
<text class="r" x="265" y="70">43868</text><text class="r" x="506.5" y="70">44318</text><text class="r" x="748" y="70">44768</text><text class="r" x="989.5" y="70">45218</text>
</g>

<g id="row19" transform="translate(0,2440)">
<use href="#st"/><use href="#tk"/>
<text class="t" x="266" y="-13.5">♩=148.9</text><text class="t" x="507.5" y="-13.5">♩=131.9</text><text class="t" x="567.8" y="-13.5">♩=139.3</text><text class="t" x="628.2" y="-13.5">♩=149.6</text><text class="t" x="748.9" y="-13.5">♩=146.2</text>
<text class="m" x="25" y="-2.5">73</text><text class="m" x="266.5" y="-2.5">74</text><text class="m" x="508" y="-2.5">75</text><text class="m" x="749.4" y="-2.5">76</text>
<use href="#nO" x="24.6"/><use href="#nY" x="235.9"/><use href="#nO" x="266"/><use href="#nY" x="416.9"/><use href="#nB" x="447.1"/><use href="#nY" x="477.3"/>
<rect class="sb" x="507.5" y="34" width="407.4" height="4"/><use href="#nB" x="507.5"/><use href="#nO" x="930"/><use href="#nYs" x="960.2"/>
<text class="b" x="265" y="60.5">50</text><text class="b" x="506.5" y="60.5">100</text><text class="b" x="748" y="60.5">73</text><text class="b" x="989.5" y="60.5">83</text>
<text class="r" x="265" y="70">45518</text><text class="r" x="506.5" y="70">46118</text><text class="r" x="748" y="70">46556</text><text class="r" x="989.5" y="70">47054</text>
</g>

<g id="row20" transform="translate(0,2570)">
<use href="#st"/><use href="#tk"/>
<text class="t" x="24.6" y="-13.5">♩=145.3</text><text class="t" x="266" y="-13.5">♩=143.4</text><text class="t" x="507.5" y="-13.5">♩=143.8</text><text class="t" x="748.9" y="-13.5">♩=146.3</text>
<text class="m" x="25" y="-2.5">77</text><text class="m" x="266.5" y="-2.5">78</text><text class="m" x="508" y="-2.5">79</text><text class="m" x="749.4" y="-2.5">80</text>
<rect class="sr" x="24.6" y="10" width="45.3" height="4"/><use href="#nR" x="24.6"/><use href="#nY" x="85"/><use href="#nO" x="115.1"/><use href="#nB" x="145.3"/><use href="#nB" x="205.7"/><use href="#nB" x="235.9"/>
<use href="#nG" x="266"/><use href="#nG" x="296.2"/><use href="#nR" x="326.4"/><use href="#nB" x="356.6"/>
<rect class="sr" x="386.8" y="10" width="60.3" height="4"/><use href="#nR" x="386.8"/><use href="#nG" x="477.3"/><use href="#nRs" x="492.4"/>
<use href="#nR" x="537.7"/><use href="#nYs" x="567.8"/><use href="#nBs" x="582.9"/><use href="#nO" x="598"/><use href="#nB" x="628.2"/><use href="#nR" x="688.6"/>
<rect class="sr" x="960.2" y="10" width="30.2" height="4"/><use href="#nR" x="960.2"/>
<text class="b" x="265" y="60.5">159</text><text class="b" x="506.5" y="60.5">187</text><text class="b" x="748" y="60.5">150</text><text class="b" x="989.5" y="60.5">31</text>
<text class="r" x="265" y="70">48008</text><text class="r" x="506.5" y="70">49130</text><text class="r" x="748" y="70">50030</text><text class="r" x="989.5" y="70">50216</text>
</g>

<g id="row21" transform="translate(0,2700)">
<rect class="ph" x="266" y="-5" width="226.4" height="58"/>
<use href="#st"/><use href="#tk"/>
<text class="t" x="24.6" y="-13.5">♩=145.6</text><text class="t" x="266" y="-13.5">♩=145.8</text><text class="t" x="507.5" y="-13.5">♩=145.6</text><text class="t" x="748.9" y="-13.5">♩=146.2</text>
<text class="m" x="25" y="-2.5">81</text><text class="m" x="266.5" y="-2.5">82</text><text class="m" x="508" y="-2.5">83</text><text class="m" x="749.4" y="-2.5">84</text>
<rect class="sr" x="24.6" y="10" width="15.1" height="4"/>
<use href="#nR" x="54.8"/><use href="#nY" x="85"/><use href="#nBs" x="100.1"/><use href="#nO" x="115.1"/><use href="#nB" x="145.3"/><use href="#nB" x="205.7"/><use href="#nB" x="235.9"/>
<use href="#xG" x="266"/><use href="#xG" x="296.2"/><use href="#xR" x="326.4"/><use href="#xYs" x="341.5"/><use href="#xBs" x="356.6"/>
<rect class="sx" x="386.8" y="10" width="60.3" height="4"/><use href="#xR" x="386.8"/>
<rect class="sx" x="477.3" y="10" width="45.3" height="4"/><use href="#xR" x="477.3"/>
<use href="#nR" x="537.7"/><use href="#nY" x="567.8"/><use href="#nBs" x="582.9"/><use href="#nO" x="598"/><use href="#nB" x="628.2"/><use href="#nR" x="688.6"/>
<rect class="sb" x="960.2" y="34" width="30.2" height="4"/><use href="#nB" x="960.2"/>
<text class="b" x="265" y="60.5">178</text><text class="b" x="506.5" y="60.5">193</text><text class="b" x="748" y="60.5">153</text><text class="b" x="989.5" y="60.5">31</text>
<text class="r" x="265" y="70">51284</text><text class="r" x="506.5" y="70">52442</text><text class="r" x="748" y="70">53360</text><text class="r" x="989.5" y="70">53546</text>
<text class="o" x="506.5" y="79">1.5 OD</text><text class="o" x="748" y="79">0.25 OD</text>
</g>

<g id="row22" transform="translate(0,2830)">
<use href="#st"/><use href="#tk"/>
<text class="t" x="24.6" y="-13.5">♩=146.5</text><text class="t" x="266" y="-13.5">♩=147.5</text><text class="t" x="507.5" y="-13.5">♩=144.3</text><text class="t" x="748.9" y="-13.5">♩=145.5</text>
<text class="m" x="25" y="-2.5">85</text><text class="m" x="266.5" y="-2.5">86</text><text class="m" x="508" y="-2.5">87</text><text class="m" x="749.4" y="-2.5">88</text>
<rect class="sb" x="24.6" y="34" width="15.1" height="4"/>
<use href="#nB" x="54.8"/><use href="#nO" x="85"/><use href="#nY" x="115.1"/><use href="#nB" x="145.3"/>
<rect class="sg" x="235.9" y="-2" width="45.2" height="4"/><use href="#nG" x="235.9"/><use href="#nG" x="296.2"/><use href="#nY" x="326.4"/><use href="#nR" x="356.6"/><use href="#nG" x="386.8"/>
<rect class="sg" x="477.3" y="-2" width="45.3" height="4"/><use href="#nG" x="477.3"/><use href="#nG" x="537.7"/><use href="#nB" x="567.8"/><use href="#nR" x="598"/><use href="#nYs" x="613.1"/><use href="#nB" x="628.2"/><use href="#nR" x="688.6"/>
<rect class="sb" x="960.2" y="34" width="30.2" height="4"/><use href="#nB" x="960.2"/>
<text class="b" x="265" y="60.5">134</text><text class="b" x="506.5" y="60.5">134</text><text class="b" x="748" y="60.5">153</text><text class="b" x="989.5" y="60.5">31</text>
<text class="r" x="265" y="70">54350</text><text class="r" x="506.5" y="70">55154</text><text class="r" x="748" y="70">56072</text><text class="r" x="989.5" y="70">56258</text>
</g>

<g id="row23" transform="translate(0,2960)">
<use href="#st"/><use href="#tk"/>
<text class="t" x="24.6" y="-13.5">♩=149.1</text><text class="t" x="266" y="-13.5">♩=146.3</text><text class="t" x="507.5" y="-13.5">♩=142.5</text><text class="t" x="748.9" y="-13.5">♩=146.7</text>
<text class="m" x="25" y="-2.5">89</text><text class="m" x="266.5" y="-2.5">90</text><text class="m" x="508" y="-2.5">91</text><text class="m" x="749.4" y="-2.5">92</text>
<rect class="sb" x="24.6" y="34" width="15.1" height="4"/>
<use href="#nB" x="54.8"/><use href="#nO" x="85"/><use href="#nY" x="115.1"/><use href="#nB" x="145.3"/>
<rect class="sg" x="235.9" y="-2" width="45.2" height="4"/><use href="#nG" x="235.9"/><use href="#nG" x="296.2"/><use href="#nY" x="326.4"/><use href="#nR" x="356.6"/><use href="#nG" x="386.8"/>
<rect class="sg" x="477.3" y="-2" width="45.3" height="4"/><use href="#nG" x="477.3"/><use href="#nG" x="537.7"/><use href="#nB" x="567.8"/><use href="#nR" x="598"/><use href="#nB" x="628.2"/><use href="#nR" x="688.6"/>
<rect class="sr" x="960.2" y="10" width="30.2" height="4"/><use href="#nR" x="960.2"/>
<text class="b" x="265" y="60.5">134</text><text class="b" x="506.5" y="60.5">134</text><text class="b" x="748" y="60.5">128</text><text class="b" x="989.5" y="60.5">31</text>
<text class="r" x="265" y="70">57062</text><text class="r" x="506.5" y="70">57866</text><text class="r" x="748" y="70">58634</text><text class="r" x="989.5" y="70">58820</text>
</g>

<g id="row24" transform="translate(0,3090)">
<rect class="ph" x="266" y="-5" width="226.4" height="58"/>
<use href="#st"/><use href="#tk"/>
<text class="t" x="24.6" y="-13.5">♩=143.3</text><text class="t" x="266" y="-13.5">♩=143.5</text><text class="t" x="507.5" y="-13.5">♩=144</text><text class="t" x="748.9" y="-13.5">♩=142.6</text>
<text class="m" x="25" y="-2.5">93</text><text class="m" x="266.5" y="-2.5">94</text><text class="m" x="508" y="-2.5">95</text><text class="m" x="749.4" y="-2.5">96</text>
<rect class="sr" x="24.6" y="10" width="45.3" height="4"/>
<use href="#nY" x="85"/><use href="#nO" x="115.1"/><use href="#nB" x="145.3"/><use href="#nB" x="205.7"/><use href="#nB" x="235.9"/>
<use href="#xG" x="266"/><use href="#xG" x="296.2"/><use href="#xR" x="326.4"/><use href="#xYs" x="341.5"/><use href="#xBs" x="356.6"/>
<rect class="sx" x="386.8" y="10" width="60.3" height="4"/><use href="#xR" x="386.8"/><use href="#xR" x="477.3"/>
<use href="#nR" x="537.7"/><use href="#nYs" x="567.8"/><use href="#nO" x="598"/><use href="#nB" x="628.2"/><use href="#nR" x="688.6"/>
<rect class="sr" x="960.2" y="10" width="30.2" height="4"/><use href="#nR" x="960.2"/>
<text class="b" x="265" y="60.5">134</text><text class="b" x="506.5" y="60.5">187</text><text class="b" x="748" y="60.5">125</text><text class="b" x="989.5" y="60.5">31</text>
<text class="r" x="265" y="70">59624</text><text class="r" x="506.5" y="70">60746</text><text class="r" x="748" y="70">61496</text><text class="r" x="989.5" y="70">61682</text>
<text class="o" x="506.5" y="79">1 OD</text>
</g>

<g id="row25" transform="translate(0,3220)">
<use href="#st"/><use href="#tk"/>
<text class="t" x="24.6" y="-13.5">♩=145.2</text><text class="t" x="266" y="-13.5">♩=142</text><text class="t" x="507.5" y="-13.5">♩=145.3</text><text class="t" x="748.9" y="-13.5">♩=145.1</text>
<text class="m" x="25" y="-2.5">97</text><text class="m" x="266.5" y="-2.5">98</text><text class="m" x="508" y="-2.5">99</text><text class="m" x="749.4" y="-2.5">100</text>
<rect class="sr" x="24.6" y="10" width="15.1" height="4"/>
<use href="#nR" x="54.8"/><use href="#nY" x="85"/><use href="#nBs" x="100.1"/><use href="#nO" x="115.1"/><use href="#nB" x="145.3"/><use href="#nB" x="205.7"/><use href="#nB" x="235.9"/>
<use href="#nG" x="266"/><use href="#nG" x="296.2"/><use href="#nR" x="326.4"/><use href="#nYs" x="341.5"/><use href="#nBs" x="356.6"/>
<rect class="sr" x="386.8" y="10" width="60.3" height="4"/><use href="#nR" x="386.8"/>
<rect class="sr" x="477.3" y="10" width="45.3" height="4"/><use href="#nR" x="477.3"/>
<use href="#nR" x="537.7"/><use href="#nYs" x="567.8"/><use href="#nO" x="598"/><use href="#nB" x="628.2"/><use href="#nR" x="688.6"/>
<use href="#nB" x="899.8"/><use href="#nY" x="930"/>
<rect class="sr" x="960.2" y="10" width="30.2" height="4"/><use href="#nR" x="960.2"/>
<text class="b" x="265" y="60.5">178</text><text class="b" x="506.5" y="60.5">193</text><text class="b" x="748" y="60.5">128</text><text class="b" x="989.5" y="60.5">81</text>
<text class="r" x="265" y="70">62750</text><text class="r" x="506.5" y="70">63908</text><text class="r" x="748" y="70">64676</text><text class="r" x="989.5" y="70">65162</text>
</g>

<g id="row26" transform="translate(0,3350)">
<use href="#st"/><use href="#tk"/>
<text class="t" x="24.6" y="-13.5">♩=143.9</text><text class="t" x="266" y="-13.5">♩=144.3</text><text class="t" x="507.5" y="-13.5">♩=143.2</text><text class="t" x="748.9" y="-13.5">♩=145.3</text>
<text class="m" x="25" y="-2.5">101</text><text class="m" x="266.5" y="-2.5">102</text><text class="m" x="508" y="-2.5">103</text><text class="m" x="749.4" y="-2.5">104</text>
<rect class="sr" x="24.6" y="10" width="15.1" height="4"/>
<use href="#nR" x="54.8"/><use href="#nR" x="85"/><use href="#nR" x="115.1"/><use href="#nB" x="145.3"/><use href="#nR" x="205.7"/>
<use href="#nB" x="416.9"/><use href="#nY" x="447.1"/>
<rect class="sr" x="477.3" y="10" width="45.3" height="4"/><use href="#nR" x="477.3"/><use href="#nR" x="537.7"/><use href="#nR" x="567.8"/><use href="#nR" x="598"/><use href="#nB" x="628.2"/><use href="#nR" x="688.6"/>
<use href="#nB" x="899.8"/><use href="#nY" x="930"/>
<rect class="sg" x="960.2" y="-2" width="30.2" height="4"/><use href="#nG" x="960.2"/>
<text class="b" x="265" y="60.5">128</text><text class="b" x="506.5" y="60.5">81</text><text class="b" x="748" y="60.5">128</text><text class="b" x="989.5" y="60.5">81</text>
<text class="r" x="265" y="70">65930</text><text class="r" x="506.5" y="70">66416</text><text class="r" x="748" y="70">67184</text><text class="r" x="989.5" y="70">67670</text>
</g>

<g id="row27" transform="translate(0,3480)">
<rect class="ph" x="477.3" y="-5" width="226.4" height="58"/>
<use href="#st"/><use href="#tk"/>
<text class="t" x="24.6" y="-13.5">♩=143.7</text><text class="t" x="266" y="-13.5">♩=144.1</text><text class="t" x="507.5" y="-13.5">♩=144.2</text><text class="t" x="748.9" y="-13.5">♩=143.2</text>
<text class="m" x="25" y="-2.5">105</text><text class="m" x="266.5" y="-2.5">106</text><text class="m" x="508" y="-2.5">107</text><text class="m" x="749.4" y="-2.5">108</text>
<rect class="sg" x="24.6" y="-2" width="15.1" height="4"/>
<use href="#nG" x="54.8"/><use href="#nG" x="85"/><use href="#nG" x="115.1"/><use href="#nB" x="145.3"/><use href="#nR" x="205.7"/>
<use href="#nB" x="416.9"/><use href="#nY" x="447.1"/>
<rect class="sx" x="477.3" y="-2" width="45.3" height="4"/><use href="#xG" x="477.3"/><use href="#xG" x="537.7"/><use href="#xG" x="567.8"/><use href="#xG" x="598"/><use href="#xB" x="628.2"/><use href="#xR" x="688.6"/>
<use href="#nB" x="899.8"/><use href="#nY" x="930"/>
<rect class="sr" x="960.2" y="10" width="30.2" height="4"/><use href="#nR" x="960.2"/>
<text class="b" x="265" y="60.5">128</text><text class="b" x="506.5" y="60.5">81</text><text class="b" x="748" y="60.5">128</text><text class="b" x="989.5" y="60.5">81</text>
<text class="r" x="265" y="70">68438</text><text class="r" x="506.5" y="70">68924</text><text class="r" x="748" y="70">69692</text><text class="r" x="989.5" y="70">70178</text>
<text class="o" x="506.5" y="79">0.5 OD</text><text class="o" x="748" y="79">0.25 OD</text>
</g>

<g id="row28" transform="translate(0,3610)">
<use href="#st"/><use href="#tk"/>
<text class="t" x="24.6" y="-13.5">♩=145.3</text><text class="t" x="266" y="-13.5">♩=144.8</text><text class="t" x="507.5" y="-13.5">♩=145.6</text><text class="t" x="748.9" y="-13.5">♩=144.8</text>
<text class="m" x="25" y="-2.5">109</text><text class="m" x="266.5" y="-2.5">110</text><text class="m" x="508" y="-2.5">111</text><text class="m" x="749.4" y="-2.5">112</text>
<rect class="sr" x="24.6" y="10" width="15.1" height="4"/>
<use href="#nR" x="54.8"/><use href="#nR" x="85"/><use href="#nR" x="115.1"/><use href="#nB" x="145.3"/><use href="#nR" x="205.7"/>
<use href="#nB" x="416.9"/><use href="#nY" x="447.1"/>
<rect class="sr" x="477.3" y="10" width="45.3" height="4"/><use href="#nR" x="477.3"/><use href="#nR" x="537.7"/><use href="#nR" x="567.8"/><use href="#nR" x="598"/><use href="#nB" x="628.2"/><use href="#nR" x="688.6"/>
<use href="#nB" x="899.8"/><use href="#nY" x="930"/>
<rect class="sg" x="960.2" y="-2" width="30.2" height="4"/><use href="#nG" x="960.2"/>
<text class="b" x="265" y="60.5">128</text><text class="b" x="506.5" y="60.5">81</text><text class="b" x="748" y="60.5">128</text><text class="b" x="989.5" y="60.5">81</text>
<text class="r" x="265" y="70">70946</text><text class="r" x="506.5" y="70">71432</text><text class="r" x="748" y="70">72200</text><text class="r" x="989.5" y="70">72686</text>
</g>

<g id="row29" transform="translate(0,3740)">
<use href="#st"/><use href="#tk"/>
<text class="t" x="24.6" y="-13.5">♩=145.3</text><text class="t" x="266" y="-13.5">♩=145.8</text><text class="t" x="507.5" y="-13.5">♩=143.8</text><text class="t" x="748.9" y="-13.5">♩=146.1</text>
<text class="m" x="25" y="-2.5">113</text><text class="m" x="266.5" y="-2.5">114</text><text class="m" x="508" y="-2.5">115</text><text class="m" x="749.4" y="-2.5">116</text>
<rect class="sg" x="24.6" y="-2" width="15.1" height="4"/>
<use href="#nG" x="54.8"/><use href="#nG" x="85"/><use href="#nG" x="115.1"/><use href="#nB" x="145.3"/><use href="#nR" x="205.7"/>
<use href="#nB" x="416.9"/><use href="#nY" x="447.1"/>
<rect class="sg" x="477.3" y="-2" width="45.3" height="4"/><use href="#nG" x="477.3"/><use href="#nG" x="537.7"/><use href="#nG" x="567.8"/><use href="#nG" x="598"/><use href="#nB" x="628.2"/><use href="#nR" x="688.6"/>
<use href="#nB" x="899.8"/><use href="#nY" x="930"/>
<rect class="sr" x="960.2" y="10" width="30.2" height="4"/><use href="#nR" x="960.2"/>
<text class="b" x="265" y="60.5">128</text><text class="b" x="506.5" y="60.5">81</text><text class="b" x="748" y="60.5">128</text><text class="b" x="989.5" y="60.5">81</text>
<text class="r" x="265" y="70">73454</text><text class="r" x="506.5" y="70">73940</text><text class="r" x="748" y="70">74708</text><text class="r" x="989.5" y="70">75194</text>
</g>

<g id="row30" transform="translate(0,3870)">
<rect class="ph" x="477.3" y="-5" width="226.4" height="58"/>
<use href="#st"/><use href="#tk"/>
<text class="t" x="24.6" y="-13.5">♩=146.4</text><text class="t" x="266" y="-13.5">♩=144.5</text><text class="t" x="507.5" y="-13.5">♩=145.5</text><text class="t" x="748.9" y="-13.5">♩=144.6</text>
<text class="m" x="25" y="-2.5">117</text><text class="m" x="266.5" y="-2.5">118</text><text class="m" x="508" y="-2.5">119</text><text class="m" x="749.4" y="-2.5">120</text>
<rect class="sr" x="24.6" y="10" width="15.1" height="4"/>
<use href="#nR" x="54.8"/><use href="#nR" x="85"/><use href="#nR" x="115.1"/><use href="#nB" x="145.3"/><use href="#nR" x="205.7"/>
<use href="#nB" x="416.9"/><use href="#nY" x="447.1"/>
<rect class="sx" x="477.3" y="10" width="45.3" height="4"/><use href="#xR" x="477.3"/><use href="#xR" x="537.7"/><use href="#xR" x="567.8"/><use href="#xR" x="598"/><use href="#xB" x="628.2"/><use href="#xR" x="688.6"/>
<use href="#nB" x="899.8"/><use href="#nY" x="930"/>
<rect class="sg" x="960.2" y="-2" width="30.2" height="4"/><use href="#nG" x="960.2"/>
<text class="b" x="265" y="60.5">128</text><text class="b" x="506.5" y="60.5">81</text><text class="b" x="748" y="60.5">128</text><text class="b" x="989.5" y="60.5">81</text>
<text class="r" x="265" y="70">75962</text><text class="r" x="506.5" y="70">76448</text><text class="r" x="748" y="70">77216</text><text class="r" x="989.5" y="70">77702</text>
<text class="o" x="506.5" y="79">0.5 OD</text><text class="o" x="748" y="79">0.25 OD</text>
</g>

<g id="row31" transform="translate(0,4000)">
<use href="#st"/><use href="#tk"/>
<text class="t" x="24.6" y="-13.5">♩=144.9</text><text class="t" x="507.5" y="-13.5">♩=146.4</text><text class="t" x="748.9" y="-13.5">♩=146.3</text>
<text class="m" x="25" y="-2.5">121</text><text class="m" x="266.5" y="-2.5">122</text><text class="m" x="508" y="-2.5">123</text><text class="m" x="749.4" y="-2.5">124</text>
<rect class="sg" x="24.6" y="-2" width="15.1" height="4"/>
<use href="#nG" x="54.8"/><use href="#nG" x="85"/><use href="#nG" x="115.1"/><use href="#nB" x="145.3"/><use href="#nR" x="205.7"/>
<use href="#nB" x="416.9"/><use href="#nY" x="447.1"/>
<rect class="sg" x="477.3" y="-2" width="45.3" height="4"/><use href="#nG" x="477.3"/><use href="#nG" x="537.7"/><use href="#nG" x="567.8"/><use href="#nG" x="598"/><use href="#nB" x="628.2"/><use href="#nR" x="688.6"/>
<use href="#nB" x="899.8"/><use href="#nY" x="930"/>
<rect class="sr" x="960.2" y="10" width="30.2" height="4"/><use href="#nR" x="960.2"/>
<text class="b" x="265" y="60.5">128</text><text class="b" x="506.5" y="60.5">81</text><text class="b" x="748" y="60.5">128</text><text class="b" x="989.5" y="60.5">81</text>
<text class="r" x="265" y="70">78470</text><text class="r" x="506.5" y="70">78956</text><text class="r" x="748" y="70">79724</text><text class="r" x="989.5" y="70">80210</text>
</g>

<g id="row32" transform="translate(0,4130)">
<use href="#st"/><use href="#tk"/>
<text class="t" x="24.6" y="-13.5">♩=143.6</text><text class="t" x="266" y="-13.5">♩=144.8</text><text class="t" x="507.5" y="-13.5">♩=145.4</text><text class="t" x="748.9" y="-13.5">♩=145.2</text>
<text class="m" x="25" y="-2.5">125</text><text class="m" x="266.5" y="-2.5">126</text><text class="m" x="508" y="-2.5">127</text><text class="m" x="749.4" y="-2.5">128</text>
<rect class="sr" x="24.6" y="10" width="15.1" height="4"/>
<use href="#nR" x="54.8"/><use href="#nR" x="85"/><use href="#nR" x="115.1"/><use href="#nB" x="145.3"/><use href="#nR" x="205.7"/>
<use href="#nB" x="416.9"/><use href="#nY" x="447.1"/>
<rect class="sr" x="477.3" y="10" width="45.3" height="4"/><use href="#nR" x="477.3"/><use href="#nR" x="537.7"/><use href="#nR" x="567.8"/><use href="#nR" x="598"/><use href="#nB" x="628.2"/><use href="#nR" x="688.6"/>
<use href="#nB" x="899.8"/><use href="#nY" x="930"/>
<rect class="sg" x="960.2" y="-2" width="30.2" height="4"/><use href="#nG" x="960.2"/>
<text class="b" x="265" y="60.5">128</text><text class="b" x="506.5" y="60.5">81</text><text class="b" x="748" y="60.5">128</text><text class="b" x="989.5" y="60.5">81</text>
<text class="r" x="265" y="70">80978</text><text class="r" x="506.5" y="70">81464</text><text class="r" x="748" y="70">82232</text><text class="r" x="989.5" y="70">82718</text>
</g>

<g id="row33" transform="translate(0,4260)">
<use href="#st"/><use href="#tk"/>
<text class="t" x="24.6" y="-13.5">♩=146</text><text class="t" x="266" y="-13.5">♩=145.7</text><text class="t" x="507.5" y="-13.5">♩=147</text><text class="t" x="748.9" y="-13.5">♩=145.8</text>
<text class="m" x="25" y="-2.5">129</text><text class="m" x="266.5" y="-2.5">130</text><text class="m" x="508" y="-2.5">131</text><text class="m" x="749.4" y="-2.5">132</text>
<rect class="sg" x="24.6" y="-2" width="15.1" height="4"/>
<use href="#nG" x="54.8"/><use href="#nG" x="85"/><use href="#nG" x="115.1"/><use href="#nB" x="145.3"/><use href="#nR" x="205.7"/>
<use href="#nB" x="416.9"/><use href="#nY" x="447.1"/>
<rect class="sg" x="477.3" y="-2" width="45.3" height="4"/><use href="#nG" x="477.3"/><use href="#nG" x="537.7"/><use href="#nG" x="567.8"/><use href="#nG" x="598"/><use href="#nB" x="628.2"/><use href="#nR" x="688.6"/>
<use href="#nB" x="899.8"/><use href="#nY" x="930"/>
<rect class="sg" x="960.2" y="-2" width="30.2" height="4"/><use href="#nG" x="960.2"/>
<text class="b" x="265" y="60.5">128</text><text class="b" x="506.5" y="60.5">81</text><text class="b" x="748" y="60.5">128</text><text class="b" x="989.5" y="60.5">81</text>
<text class="r" x="265" y="70">83486</text><text class="r" x="506.5" y="70">83972</text><text class="r" x="748" y="70">84740</text><text class="r" x="989.5" y="70">85226</text>
</g>

<g id="row34" transform="translate(0,4390)">
<use href="#st"/><use href="#tk"/>
<text class="t" x="24.6" y="-13.5">♩=145.2</text><text class="t" x="266" y="-13.5">♩=143.7</text><text class="t" x="507.5" y="-13.5">♩=143.6</text><text class="t" x="748.9" y="-13.5">♩=146</text>
<text class="m" x="25" y="-2.5">133</text><text class="m" x="266.5" y="-2.5">134</text><text class="m" x="508" y="-2.5">135</text><text class="m" x="749.4" y="-2.5">136</text>
<rect class="sg" x="24.6" y="-2" width="15.1" height="4"/>
<use href="#nG" x="54.8"/><use href="#nG" x="85"/><use href="#nG" x="115.1"/><use href="#nB" x="145.3"/><use href="#nR" x="205.7"/>
<use href="#nB" x="416.9"/><use href="#nY" x="447.1"/>
<rect class="sr" x="477.3" y="10" width="45.3" height="4"/><use href="#nR" x="477.3"/><use href="#nR" x="537.7"/><use href="#nR" x="567.8"/><use href="#nR" x="598"/><use href="#nB" x="628.2"/><use href="#nR" x="688.6"/>
<use href="#nB" x="899.8"/><use href="#nY" x="930"/><use href="#nR" x="960.2"/>
<text class="b" x="265" y="60.5">128</text><text class="b" x="506.5" y="60.5">81</text><text class="b" x="748" y="60.5">128</text><text class="b" x="989.5" y="60.5">75</text>
<text class="r" x="265" y="70">85994</text><text class="r" x="506.5" y="70">86480</text><text class="r" x="748" y="70">87248</text><text class="r" x="989.5" y="70">87698</text>
</g>

<g id="row35" transform="translate(0,4520)">
<use href="#st2"/><use href="#tk2"/>
<text class="t" x="24.6" y="-13.5">♩=145.2</text><text class="t" x="311.3" y="-13.5">♩=93.9</text>
<text class="m" x="25" y="-2.5">137</text><text class="m" x="266.5" y="-2.5">138</text>
<use href="#nG" x="54.8"/><use href="#nG" x="85"/><use href="#nG" x="115.1"/><use href="#nB" x="145.3"/><use href="#nR" x="205.7"/>
<text class="b" x="265" y="60.5">125</text><text class="b" x="506.5" y="60.5">0</text>
<text class="r" x="265" y="70">88448</text><text class="r" x="506.5" y="70">88448</text>
</g>

<g id="footer" font-size="11.5">
<text x="0" y="4649" fill="#808080">http://charts.ajanata.com/rb/</text>
<text x="0" y="4663" fill="#ff0000">WARNING: Work in progress. This information has NOT BEEN VERIFIED and MAY BE INCORRECT.</text>
<text x="1009" y="4649" fill="#808080" text-anchor="end">Generated at Fri, 26 Aug 2011 03:44:40 -0400.</text>
<text x="1009" y="4663" fill="#808080" text-anchor="end">Generated by ajanata's Chart Generator, r299.</text>
</g>
</g>
</svg>
